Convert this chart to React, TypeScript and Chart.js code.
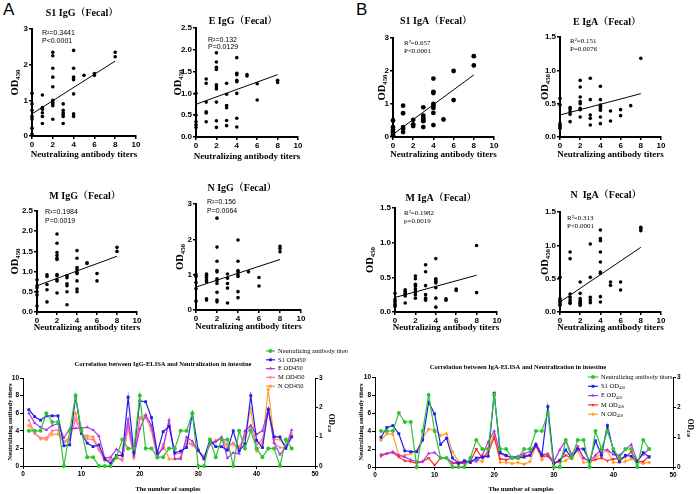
import React, { useEffect, useRef } from 'react';
import { Chart, registerables } from 'chart.js';
import { drawPoint } from 'chart.js/helpers';

Chart.register(...registerables);

const SERIF = '"Liberation Serif", "Noto Serif CJK SC", "Noto Sans CJK SC", "DejaVu Serif", serif';
const SANS = '"Liberation Sans", Arial, sans-serif';

// ---------- scatter data (titer groups -> OD450 values) ----------
const titersS1IgG = [0, 1, 2, 3, 4, 5, 6, 8];
const odS1IgG = [
  [0.05, 0.22, 0.48, 0.55, 0.72, 0.9, 1.2],
  [1.15, 0.8, 0.75, 0.65, 0.55, 0.35],
  [2.35, 2.25, 1.9, 1.65, 1.38, 1.0, 0.95, 0.9, 0.85, 0.47],
  [0.9, 0.72, 0.65, 0.6, 0.55, 0.35],
  [2.4, 1.9, 1.65, 1.58, 1.18, 0.62, 0.55],
  [1.7],
  [1.75, 1.7],
  [2.35, 2.22],
];
const fitS1IgG = [0.62, 2.1];
const statsS1IgG = ['R²=0.3441', 'P<0.0001'];

const titersEIgG = [0, 1, 2, 3, 4, 5, 6, 8];
const odEIgG = [
  [1.0, 0.5, 0.35, 0.28, 0.22],
  [1.33, 1.23, 0.8, 0.58, 0.55, 0.35],
  [1.93, 1.72, 1.6, 1.55, 1.2, 1.15, 1.1, 0.8, 0.37, 0.22],
  [1.23, 0.98, 0.72, 0.67, 0.38, 0.26],
  [1.82, 1.46, 1.43, 1.3, 1.27, 1.0, 0.43, 0.23],
  [1.43, 1.4],
  [1.22, 0.85],
  [1.3, 1.25],
];
const fitEIgG = [0.75, 1.43];
const statsEIgG = ['R²=0.132', 'P=0.0129'];

const titersS1IgA = [0, 1, 2, 3, 4, 5, 6, 8];
const odS1IgA = [
  [0.5, 0.3, 0.22, 0.15, 0.1, 0.05],
  [0.95, 0.72, 0.3, 0.25, 0.15],
  [0.52, 0.38, 0.33],
  [0.9, 0.65, 0.58, 0.52, 0.48, 0.3],
  [1.77, 1.37, 1.33, 1.0, 0.95, 0.88, 0.73, 0.36],
  [0.53],
  [2.0, 1.12],
  [2.45, 2.17],
];
const fitS1IgA = [0.08, 1.88];
const statsS1IgA = ['R²=0.657', 'P<0.0001'];

const titersEIgA = [0, 1, 2, 3, 4, 5, 6, 7, 8];
const odEIgA = [
  [0.58, 0.48, 0.2, 0.17, 0.15, 0.13],
  [0.44, 0.42, 0.38, 0.34, 0.23],
  [0.85, 0.75, 0.6, 0.53, 0.5, 0.43, 0.41, 0.3],
  [0.88, 0.56, 0.33, 0.28, 0.18],
  [0.76, 0.56, 0.48, 0.46, 0.43, 0.4, 0.3, 0.2],
  [0.39, 0.24],
  [0.41, 0.32],
  [0.47],
  [1.18],
];
const fitEIgA = [0.33, 0.65];
const statsEIgA = ['R²=0.151', 'P=0.0076'];

const titersMIgG = [0, 1, 2, 3, 4, 5, 6, 8];
const odMIgG = [
  [0.8, 0.65, 0.6, 0.5, 0.42, 0.15],
  [0.92, 0.88, 0.68, 0.55, 0.25],
  [1.93, 1.7, 1.47, 1.4, 1.33, 1.3, 0.93, 0.9, 0.8, 0.77, 0.47],
  [0.9, 0.85, 0.7, 0.65, 0.5, 0.18],
  [1.52, 1.33, 1.1, 1.05, 0.98, 0.95, 0.77, 0.57, 0.5],
  [1.22, 1.2],
  [0.95, 0.77],
  [1.6, 1.5],
];
const fitMIgG = [0.65, 1.38];
const statsMIgG = ['R²=0.1984', 'P=0.0019'];

const titersNIgG = [0, 1, 2, 3, 4, 5, 6, 8];
const odNIgG = [
  [1.0, 0.95, 0.78, 0.6, 0.25],
  [1.02, 0.98, 0.92, 0.85, 0.8, 0.32, 0.28],
  [2.6, 1.78, 1.38, 1.12, 1.08, 0.88, 0.83, 0.75, 0.5, 0.28, 0.23],
  [1.02, 0.9, 0.75, 0.62, 0.2],
  [1.98, 1.38, 1.12, 1.08, 1.0, 0.95, 0.52, 0.35],
  [1.08],
  [0.92, 0.68],
  [1.8, 1.73, 1.65],
];
const fitNIgG = [0.65, 1.43];
const statsNIgG = ['R²=0.156', 'P=0.0064'];

const titersMIgA = [0, 1, 2, 3, 4, 5, 6, 8];
const odMIgA = [
  [0.27, 0.18, 0.15, 0.12, 0.1, 0.08],
  [0.32, 0.3, 0.27, 0.25, 0.23, 0.13],
  [0.52, 0.48, 0.4, 0.37, 0.33, 0.3, 0.28, 0.25, 0.2],
  [0.68, 0.58, 0.38, 0.25, 0.2, 0.17],
  [0.77, 0.48, 0.46, 0.44, 0.42, 0.35, 0.2, 0.07],
  [0.19, 0.17],
  [0.33, 0.31],
  [0.96, 0.28],
];
const fitMIgA = [0.21, 0.53];
const statsMIgA = ['R²=0.1982', 'p=0.0019'];

const titersNIgA = [0, 1, 2, 3, 4, 5, 6, 8];
const odNIgA = [
  [0.52, 0.2, 0.17, 0.15, 0.12, 0.1],
  [0.9, 0.8, 0.27, 0.22, 0.18, 0.15, 0.13],
  [0.45, 0.28, 0.2, 0.17, 0.15, 0.13, 0.12, 0.1],
  [1.02, 0.52, 0.22, 0.18, 0.14],
  [1.23, 1.1, 1.07, 0.9, 0.75, 0.6, 0.58, 0.23, 0.15],
  [0.45, 0.4],
  [0.45, 0.33],
  [1.27, 1.25, 1.22],
];
const fitNIgA = [0.15, 0.97];
const statsNIgA = ['R²=0.313', 'P<0.0001'];

const fitX = [0, 8];

// ---------- line chart data (46 samples) ----------
const neutTiters = [4, 4, 4, 6, 5, 5, 0, 4, 8, 4, 1, 1, 0, 0, 0, 1, 3, 2, 2, 8, 2, 2, 1, 1, 2, 2, 4, 4, 6, 0, 0, 3, 1, 3, 3, 0, 4, 2, 4, 2, 1, 2, 2, 0, 3, 2];

const igG_S1 = [1.92, 1.68, 1.56, 1.71, 1.71, 1.71, 0.69, 0.72, 2.37, 1.11, 0.78, 0.66, 0.72, 0.24, 0.09, 0.36, 0.36, 2.34, 0.45, 2.22, 2.19, 1.65, 0.45, 1.17, 1.35, 0.45, 0.51, 0.63, 1.8, 0.54, 0.24, 0.9, 0.66, 0.66, 0.54, 1.2, 0.51, 0.75, 2.4, 0.87, 0.63, 1.92, 0.99, 0.99, 0.6, 0.99];
const igG_E = [1.8, 1.47, 1.32, 1.23, 1.38, 1.44, 0.96, 1.26, 1.29, 1.29, 1.32, 1.23, 1.02, 0.27, 0.3, 0.57, 0.42, 1.59, 0.36, 1.26, 1.74, 1.38, 0.39, 0.6, 1.56, 0.24, 0.24, 0.99, 0.84, 0.54, 0.24, 0.75, 0.84, 0.99, 0.27, 0.45, 0.42, 1.2, 1.38, 1.08, 1.2, 1.95, 0.78, 0.39, 0.66, 1.23];
const igG_M = [1.56, 1.11, 0.96, 0.96, 1.2, 1.23, 0.78, 0.9, 1.59, 1.11, 0.93, 0.9, 0.54, 0.21, 0.21, 0.3, 0.18, 1.38, 0.36, 1.59, 1.65, 1.26, 0.3, 0.66, 1.53, 0.39, 0.45, 0.75, 0.75, 0.54, 0.3, 0.72, 0.81, 0.96, 0.72, 0.75, 0.54, 0.99, 1.35, 0.72, 0.9, 1.95, 0.78, 0.63, 0.6, 1.11];
const igG_N = [1.38, 1.14, 0.93, 0.9, 1.08, 1.08, 0.84, 0.96, 1.8, 1.11, 1.02, 0.99, 0.6, 0.18, 0.21, 0.27, 0.24, 1.29, 0.27, 1.65, 1.74, 1.2, 0.27, 0.75, 0.24, 0.24, 0.3, 0.87, 0.72, 0.51, 0.33, 0.78, 0.87, 0.93, 0.6, 0.78, 0.66, 0.99, 1.95, 0.51, 0.78, 2.61, 0.9, 0.9, 0.66, 1.05];

const igA_S1 = [0.99, 1.32, 1.38, 1.11, 0.54, 0.51, 0.51, 0.9, 2.16, 1.77, 0.75, 0.96, 0.3, 0.12, 0.21, 0.15, 0.3, 0.33, 0.36, 2.46, 0.48, 0.39, 0.3, 0.3, 0.33, 0.39, 0.75, 0.39, 2.01, 0.12, 0.21, 0.57, 0.3, 0.6, 0.6, 0.18, 0.87, 0.39, 1.38, 0.54, 0.18, 0.39, 0.36, 0.18, 0.48, 0.33];
const igA_E = [0.42, 0.45, 0.51, 0.39, 0.33, 0.24, 0.18, 0.18, 0.45, 0.48, 0.3, 0.3, 0.15, 0.15, 0.15, 0.24, 0.18, 0.39, 0.84, 1.2, 0.45, 0.36, 0.33, 0.36, 0.45, 0.51, 0.78, 0.42, 0.42, 0.18, 0.57, 0.9, 0.42, 0.66, 0.3, 0.18, 0.39, 0.57, 0.57, 0.42, 0.39, 0.57, 0.75, 0.21, 0.42, 0.6];
const igA_M = [0.36, 0.45, 0.48, 0.33, 0.21, 0.18, 0.12, 0.18, 0.3, 0.06, 0.3, 0.3, 0.12, 0.12, 0.12, 0.18, 0.6, 0.3, 0.48, 0.99, 0.27, 0.24, 0.3, 0.33, 0.39, 0.39, 0.69, 0.36, 0.36, 0.12, 0.24, 0.39, 0.3, 0.69, 0.3, 0.18, 0.24, 0.3, 0.21, 0.27, 0.27, 0.33, 0.51, 0.18, 0.18, 0.36];
const igA_N = [0.9, 1.11, 1.08, 0.39, 0.39, 0.45, 0.54, 0.96, 1.26, 1.23, 1.05, 1.11, 0.51, 0.18, 0.12, 0.18, 0.24, 0.18, 0.6, 1.08, 0.15, 0.15, 0.12, 0.15, 0.09, 0.18, 0.72, 0.24, 0.45, 0.12, 0.15, 0.21, 0.36, 0.54, 0.15, 0.15, 0.3, 0.45, 0.54, 0.15, 0.15, 0.18, 0.27, 0.15, 0.12, 0.15];

const legendIgG = ['Neutralizing antibody titers', 'S1 OD450', 'E OD450', 'M OD450', 'N OD450'];
const legendIgAMain = ['Neutralizing antibody titers', 'S1 OD', 'E OD', 'M OD', 'N OD'];
const legendIgASub = ['', '450', '450', '450', '450'];

// ---------- styles ----------
const GREEN = '#2fc42f';
const BLUE = '#1f1fe8';
const PURPLE = '#b233f0';
const PINK = '#ff6fb5';
const RED = '#ff2a2a';
const ORANGE = '#ffa030';

type Rect = [number, number, number, number];

function drawSub(ctx: CanvasRenderingContext2D, main: string, sub: string, x: number, y: number, size: number, weight: string, align: 'left' | 'center') {
  ctx.font = `${weight} ${size}px ${SERIF}`;
  const w1 = ctx.measureText(main).width;
  ctx.font = `${weight} ${size * 0.65}px ${SERIF}`;
  const w2 = sub ? ctx.measureText(sub).width : 0;
  const sx = align === 'center' ? x - (w1 + w2) / 2 : x;
  ctx.textAlign = 'left';
  ctx.textBaseline = 'middle';
  ctx.font = `${weight} ${size}px ${SERIF}`;
  ctx.fillText(main, sx, y);
  if (sub) {
    ctx.font = `${weight} ${size * 0.65}px ${SERIF}`;
    ctx.fillText(sub, sx + w1, y + size * 0.3);
  }
}

const scatterTextPlugin = {
  id: 'panelText',
  afterDraw(chart: any, _args: any, o: any) {
    const ctx: CanvasRenderingContext2D = chart.ctx;
    const a = chart.chartArea;
    const ox = o.ox, oy = o.oy;
    ctx.save();
    ctx.fillStyle = '#000';
    ctx.textAlign = 'center';
    ctx.textBaseline = 'middle';
    ctx.font = `bold 10px ${SERIF}`;
    ctx.fillText(o.title, o.titlePos[0] - ox, o.titlePos[1] - oy);
    ctx.font = `bold 9px ${SERIF}`;
    ctx.fillText('Neutralizing antibody titers', (a.left + a.right) / 2, o.xLabelY - oy);
    ctx.save();
    ctx.translate(o.yLabelX - ox, (a.top + a.bottom) / 2);
    ctx.rotate(-Math.PI / 2);
    drawSub(ctx, 'OD', '450', 0, 0, 10.5, 'bold', 'center');
    ctx.restore();
    ctx.textAlign = 'left';
    ctx.textBaseline = 'middle';
    ctx.font = o.statsSerif ? `7px ${SERIF}` : `7px ${SANS}`;
    o.stats.forEach((s: string, i: number) => {
      ctx.fillText(s, o.statsPos[0] - ox, o.statsPos[1 + i] - oy);
    });
    ctx.restore();
  },
};

const lineTextPlugin = {
  id: 'lineText',
  afterDraw(chart: any, _args: any, o: any) {
    const ctx: CanvasRenderingContext2D = chart.ctx;
    const ox = o.ox, oy = o.oy;
    ctx.save();
    ctx.fillStyle = '#000';
    ctx.textAlign = 'center';
    ctx.textBaseline = 'middle';
    ctx.font = `bold 6.5px ${SERIF}`;
    ctx.fillText(o.title, o.titlePos[0] - ox, o.titlePos[1] - oy);
    ctx.fillText('The number of samples', o.xLabelPos[0] - ox, o.xLabelPos[1] - oy);
    ctx.save();
    ctx.translate(o.leftLabelPos[0] - ox, o.leftLabelPos[1] - oy);
    ctx.rotate(-Math.PI / 2);
    ctx.font = `bold 6.5px ${SERIF}`;
    ctx.textAlign = 'center';
    ctx.fillText('Neutralizing antibody titers', 0, 0);
    ctx.restore();
    ctx.save();
    ctx.translate(o.rightLabelPos[0] - ox, o.rightLabelPos[1] - oy);
    ctx.rotate(Math.PI / 2);
    drawSub(ctx, 'OD', '450', 0, 0, 7.5, 'bold', 'center');
    ctx.restore();
    // legend
    chart.data.datasets.forEach((ds: any, i: number) => {
      const y = o.legendY - oy + i * o.legendGap;
      const x0 = o.legendX - ox;
      ctx.strokeStyle = ds.borderColor;
      ctx.fillStyle = ds.borderColor;
      ctx.lineWidth = 1.2;
      ctx.beginPath();
      ctx.moveTo(x0, y);
      ctx.lineTo(x0 + o.legendLen, y);
      ctx.stroke();
      drawPoint(ctx, { pointStyle: ds.pointStyle, rotation: ds.rotation || 0, radius: 2, borderWidth: 0 } as any, x0 + o.legendLen / 2, y);
      ctx.fillStyle = '#000';
      drawSub(ctx, o.legendMain[i], o.legendSub[i], o.legendTextX - ox, y, 6.5, 'normal', 'left');
    });
    ctx.restore();
  },
};

function paddingFor(canvas: Rect, area: number[], yW: number, xH: number, rW: number) {
  return {
    left: area[0] - canvas[0] - yW,
    top: area[1] - canvas[1],
    right: canvas[0] + canvas[2] - area[2] - rW,
    bottom: canvas[1] + canvas[3] - area[3] - xH,
  };
}

function fixSize(dim: 'width' | 'height', v: number) {
  return (s: any) => {
    s[dim] = v;
    s.paddingLeft = 0;
    s.paddingRight = 0;
    s.paddingTop = 0;
    s.paddingBottom = 0;
  };
}

interface ScatterPanel {
  canvas: Rect;
  area: number[];
  titers: number[];
  od: number[][];
  fit: number[];
  stats: string[];
  statsSerif: boolean;
  statsPos: number[];
  yMax: number;
  yStep: number;
  title: string;
  titlePos: number[];
  xLabelY: number;
  yLabelX: number;
  r: number;
}

const scatterPanels: ScatterPanel[] = [
  { canvas: [0, 0, 175, 165], area: [32, 29, 136, 136], titers: titersS1IgG, od: odS1IgG, fit: fitS1IgG, stats: statsS1IgG, statsSerif: false, statsPos: [42, 33, 41], yMax: 3, yStep: 1, title: 'S1 IgG（Fecal）', titlePos: [82, 13], xLabelY: 155, yLabelX: 15, r: 1.8 },
  { canvas: [165, 0, 190, 165], area: [196, 28, 298, 137], titers: titersEIgG, od: odEIgG, fit: fitEIgG, stats: statsEIgG, statsSerif: false, statsPos: [208, 40, 47], yMax: 2.5, yStep: 0.5, title: 'E IgG（Fecal）', titlePos: [243, 21], xLabelY: 157, yLabelX: 178, r: 1.8 },
  { canvas: [350, 0, 180, 165], area: [393, 38, 494, 137], titers: titersS1IgA, od: odS1IgA, fit: fitS1IgA, stats: statsS1IgA, statsSerif: true, statsPos: [404, 43, 51], yMax: 3, yStep: 1, title: 'S1 IgA（Fecal）', titlePos: [436, 21], xLabelY: 155, yLabelX: 382, r: 2.4 },
  { canvas: [525, 0, 171, 165], area: [560, 37, 661, 137], titers: titersEIgA, od: odEIgA, fit: fitEIgA, stats: statsEIgA, statsSerif: true, statsPos: [570, 41, 49], yMax: 1.5, yStep: 0.5, title: 'E IgA（Fecal）', titlePos: [607, 22], xLabelY: 155, yLabelX: 545, r: 1.8 },
  { canvas: [0, 165, 175, 170], area: [37, 211, 137, 312], titers: titersMIgG, od: odMIgG, fit: fitMIgG, stats: statsMIgG, statsSerif: false, statsPos: [45, 212, 221], yMax: 2.5, yStep: 0.5, title: 'M IgG（Fecal）', titlePos: [85, 196], xLabelY: 328, yLabelX: 15, r: 1.8 },
  { canvas: [165, 165, 190, 170], area: [196, 204, 301, 310], titers: titersNIgG, od: odNIgG, fit: fitNIgG, stats: statsNIgG, statsSerif: false, statsPos: [207, 202, 211], yMax: 3, yStep: 1, title: 'N IgG（Fecal）', titlePos: [242, 188], xLabelY: 327, yLabelX: 180, r: 1.8 },
  { canvas: [350, 165, 180, 170], area: [395, 208, 497, 312], titers: titersMIgA, od: odMIgA, fit: fitMIgA, stats: statsMIgA, statsSerif: true, statsPos: [404, 213, 221], yMax: 1.5, yStep: 0.5, title: 'M IgA（Fecal）', titlePos: [441, 198], xLabelY: 328, yLabelX: 370, r: 1.8 },
  { canvas: [525, 165, 171, 170], area: [560, 212, 661, 312], titers: titersNIgA, od: odNIgA, fit: fitNIgA, stats: statsNIgA, statsSerif: true, statsPos: [567, 218, 226], yMax: 1.5, yStep: 0.5, title: 'N  IgA（Fecal）', titlePos: [606, 195], xLabelY: 328, yLabelX: 545, r: 1.8 },
];

function scatterConfig(p: ScatterPanel): any {
  const pts: { x: number; y: number }[] = [];
  p.titers.forEach((t, i) => p.od[i].forEach((v) => pts.push({ x: t, y: v })));
  const tickFont = { family: SANS, size: 8, weight: 'bold' as const };
  return {
    type: 'scatter',
    data: {
      datasets: [
        { data: pts, pointRadius: p.r, pointHoverRadius: p.r, backgroundColor: '#000', borderWidth: 0, pointBorderWidth: 0, clip: false },
        { data: fitX.map((x, i) => ({ x, y: p.fit[i] })), showLine: true, borderColor: '#000', borderWidth: 1, pointRadius: 0, clip: false },
      ],
    },
    options: {
      responsive: false,
      animation: false,
      events: [],
      layout: { padding: paddingFor(p.canvas, p.area, 16, 14, 0) },
      plugins: {
        legend: { display: false },
        tooltip: { enabled: false },
        panelText: { ...p, ox: p.canvas[0], oy: p.canvas[1] },
      },
      scales: {
        x: {
          type: 'linear', min: 0, max: 10,
          ticks: { stepSize: 2, font: tickFont, color: '#000', padding: 1, maxRotation: 0 },
          grid: { drawOnChartArea: false, drawTicks: true, tickLength: 3, color: '#000', lineWidth: 1.5 },
          border: { display: true, color: '#000', width: 2 },
          afterFit: fixSize('height', 14),
        },
        y: {
          type: 'linear', min: 0, max: p.yMax,
          ticks: { stepSize: p.yStep, font: tickFont, color: '#000', padding: 1, callback: (v: number) => (p.yStep < 1 ? v.toFixed(1) : String(v)) },
          grid: { drawOnChartArea: false, drawTicks: true, tickLength: 3, color: '#000', lineWidth: 1.5 },
          border: { display: true, color: '#000', width: 2 },
          afterFit: fixSize('width', 16),
        },
      },
    },
    plugins: [scatterTextPlugin],
  };
}

interface LinePanel {
  canvas: Rect;
  area: number[];
  series: number[][];
  colors: string[];
  main: string[];
  sub: string[];
  title: string;
  titlePos: number[];
  xLabelPos: number[];
  leftLabelPos: number[];
  rightLabelPos: number[];
  legendX: number;
  legendTextX: number;
  legendY: number;
  legendGap: number;
  legendLen: number;
}

const linePanels: LinePanel[] = [
  {
    canvas: [0, 335, 348, 159], area: [23, 378, 315, 466],
    series: [neutTiters, igG_S1, igG_E, igG_M, igG_N],
    colors: [GREEN, BLUE, PURPLE, PINK, ORANGE],
    main: legendIgG, sub: ['', '', '', '', ''],
    title: 'Correlation between IgG-ELISA and Neutralization in intestine',
    titlePos: [163, 364], xLabelPos: [168, 489], leftLabelPos: [10, 422], rightLabelPos: [331, 423],
    legendX: 266, legendTextX: 278, legendY: 351, legendGap: 8.8, legendLen: 9,
  },
  {
    canvas: [348, 335, 348, 159], area: [375, 377, 673, 467],
    series: [neutTiters, igA_S1, igA_E, igA_M, igA_N],
    colors: [GREEN, BLUE, PURPLE, RED, ORANGE],
    main: legendIgAMain, sub: legendIgASub,
    title: 'Correlation between IgA-ELISA and Neutralization in intestine',
    titlePos: [518, 367], xLabelPos: [521, 489], leftLabelPos: [361, 422], rightLabelPos: [690, 428],
    legendX: 588, legendTextX: 601, legendY: 377, legendGap: 9.3, legendLen: 10,
  },
];

const pointStyles = ['circle', 'rect', 'triangle', 'triangle', 'rectRot'];
const rotations = [0, 0, 0, 180, 0];

function lineConfig(p: LinePanel): any {
  const tickFont = { family: SANS, size: 6.5, weight: 'bold' as const };
  const axisCommon = {
    grid: { drawOnChartArea: false, drawTicks: true, tickLength: 3, color: '#000', lineWidth: 1 },
    border: { display: true, color: '#000', width: 1 },
  };
  return {
    type: 'line',
    data: {
      datasets: p.series.map((vals, si) => ({
        label: p.main[si] + p.sub[si],
        data: vals.map((v, i) => ({ x: i + 1, y: v })),
        yAxisID: si === 0 ? 'y' : 'y1',
        borderColor: p.colors[si],
        backgroundColor: p.colors[si],
        pointBackgroundColor: p.colors[si],
        borderWidth: 1.2,
        pointRadius: 2,
        pointHoverRadius: 2,
        pointBorderWidth: 0,
        pointStyle: pointStyles[si],
        rotation: rotations[si],
        tension: 0,
        clip: false,
      })),
    },
    options: {
      responsive: false,
      animation: false,
      events: [],
      layout: { padding: paddingFor(p.canvas, p.area, 14, 14, 12) },
      plugins: {
        legend: { display: false },
        tooltip: { enabled: false },
        lineText: {
          ...p, ox: p.canvas[0], oy: p.canvas[1], legendMain: p.main, legendSub: p.sub,
        },
      },
      scales: {
        x: {
          type: 'linear', min: 0, max: 50,
          ticks: { stepSize: 10, font: tickFont, color: '#000', padding: 1, maxRotation: 0 },
          ...axisCommon,
          afterFit: fixSize('height', 14),
        },
        y: {
          type: 'linear', position: 'left', min: 0, max: 10,
          ticks: { stepSize: 2, font: tickFont, color: '#000', padding: 1 },
          ...axisCommon,
          afterFit: fixSize('width', 14),
        },
        y1: {
          type: 'linear', position: 'right', min: 0, max: 3,
          ticks: { stepSize: 1, font: tickFont, color: '#000', padding: 1 },
          ...axisCommon,
          afterFit: fixSize('width', 12),
        },
      },
    },
    plugins: [lineTextPlugin],
  };
}

function ChartBox({ rect, make }: { rect: Rect; make: () => any }) {
  const ref = useRef<HTMLCanvasElement | null>(null);
  useEffect(() => {
    if (!ref.current) return;
    const c = new Chart(ref.current, make());
    return () => c.destroy();
  }, []);
  return (
    <canvas
      ref={ref}
      width={rect[2]}
      height={rect[3]}
      style={{ position: 'absolute', left: rect[0], top: rect[1], width: rect[2], height: rect[3] }}
    />
  );
}

export default function App() {
  return (
    <div style={{ position: 'absolute', left: 0, top: 0, width: 696, height: 494, background: '#fff', overflow: 'hidden' }}>
      <div style={{ position: 'absolute', left: 3, top: 1, font: `17px ${SANS}`, lineHeight: '17px' }}>A</div>
      <div style={{ position: 'absolute', left: 356, top: 1, font: `17px ${SANS}`, lineHeight: '17px' }}>B</div>
      {scatterPanels.map((p, i) => (
        <ChartBox key={'s' + i} rect={p.canvas} make={() => scatterConfig(p)} />
      ))}
      {linePanels.map((p, i) => (
        <ChartBox key={'l' + i} rect={p.canvas} make={() => lineConfig(p)} />
      ))}
    </div>
  );
}
